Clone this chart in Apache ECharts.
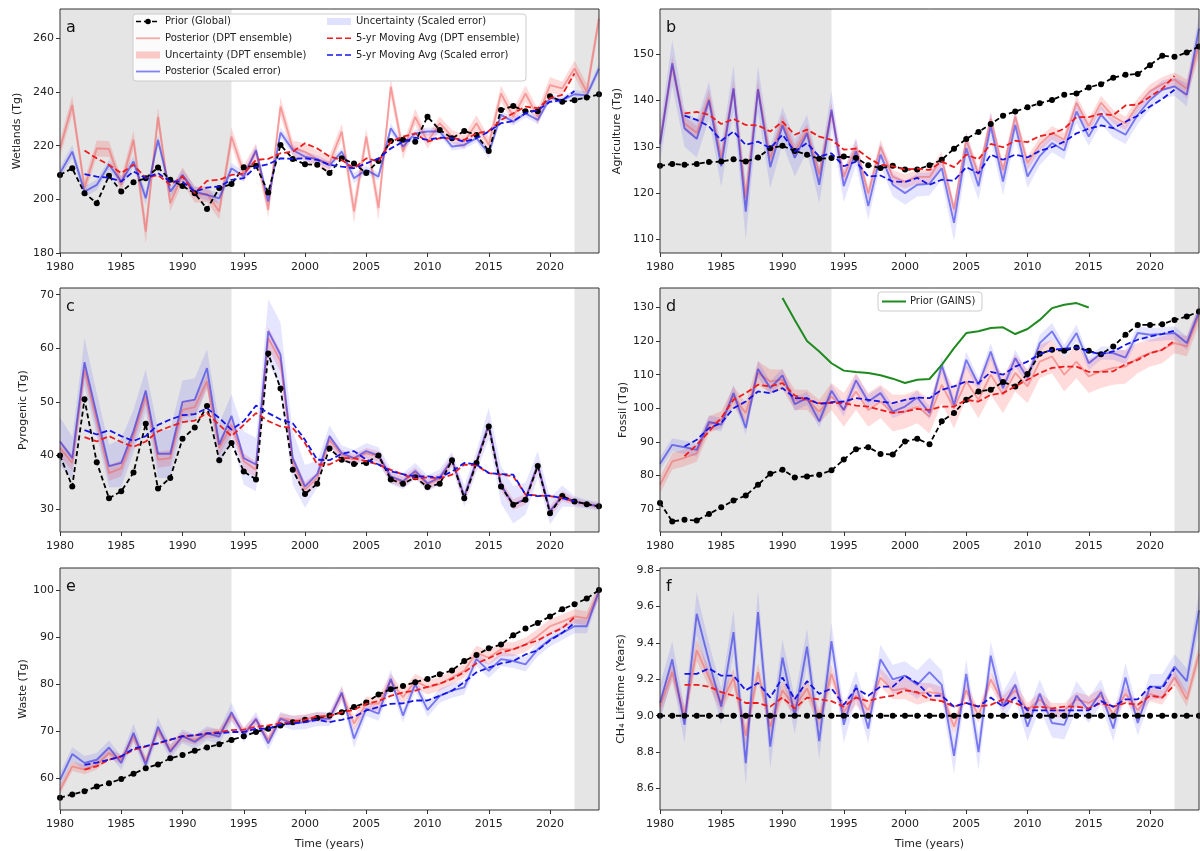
<!DOCTYPE html>
<html>
<head>
<meta charset="utf-8">
<script src="https://cdn.jsdelivr.net/npm/echarts@6/dist/echarts.min.js"></script>
<style>
  html, body { margin: 0; padding: 0; background: #fff; }
  #chart { width: 1200px; height: 851px; }
</style>
</head>
<body>
<div id="chart"></div>
<script>
// ---- time axes ----
const years = [1980,1981,1982,1983,1984,1985,1986,1987,1988,1989,1990,1991,1992,1993,1994,
  1995,1996,1997,1998,1999,2000,2001,2002,2003,2004,2005,2006,2007,2008,2009,
  2010,2011,2012,2013,2014,2015,2016,2017,2018,2019,2020,2021,2022,2023,2024];
const maYears = [1982,1983,1984,1985,1986,1987,1988,1989,1990,1991,1992,1993,1994,1995,1996,
  1997,1998,1999,2000,2001,2002,2003,2004,2005,2006,2007,2008,2009,2010,2011,
  2012,2013,2014,2015,2016,2017,2018,2019,2020,2021,2022];
const gainsYears = [1990,1991,1992,1993,1994,1995,1996,1997,1998,1999,2000,2001,2002,
  2003,2004,2005,2006,2007,2008,2009,2010,2011,2012,2013,2014,2015];
const xTicks = [1980,1985,1990,1995,2000,2005,2010,2015,2020];
const shadedPeriods = [[1980,1994],[2022,2024]];

// ---- a: Wetlands (Tg) ----
const yTicksA = [180,200,220,240,260];
const priorA = [209.1,211.6,202.3,198.6,208.8, 202.9,206.4,207.9,211.9,207.3, 205.0,202.3,196.4,204.2,205.7,
  212.0,212.5,202.6,220.3,215.1, 213.1,212.9,209.8,215.3,213.4, 209.8,214.3,221.8,222.2,221.5,
  230.8,225.9,222.8,225.5,224.0, 218.0,233.3,234.8,232.9,232.9, 238.5,236.4,237.0,238.0,239.2];
const dptA = [219.0,235.2,204.4,219.0,218.8, 205.4,222.2,188.0,230.8,198.6, 209.1,201.7,202.0,195.5,223.4,
  209.8,217.8,196.1,234.6,219.0, 217.8,215.0,213.5,225.3,195.5, 223.4,196.7,242.0,217.8,230.8,
  221.5,228.4,223.4,221.5,228.4, 220.3,239.5,230.8,239.5,230.8, 242.6,241.4,248.8,240.1,267.4];
const dptErrA = [3.0,3.5,3.0,3.0,3.0, 3.0,3.5,4.5,3.5,3.0, 3.0,3.0,3.0,3.0,3.5,
  3.0,3.0,3.0,3.5,3.0, 3.0,3.0,3.0,3.0,4.5, 3.0,4.5,3.5,3.0,3.0,
  2.5,2.5,2.5,2.5,3.0, 3.0,3.0,3.0,3.0,3.0, 3.0,2.5,3.0,3.0,3.0];
const scaledA = [209.8,217.8,202.9,205.4,212.9, 206.6,214.1,200.4,222.2,202.9, 209.1,202.9,201.7,200.4,211.6,
  208.5,218.4,199.2,224.9,218.4, 215.9,215.0,212.7,217.8,207.9, 211.0,208.5,226.5,219.7,224.6,
  225.3,225.3,219.7,220.3,222.8, 217.2,231.5,229.0,232.1,229.6, 237.9,237.0,239.2,238.8,248.8];
const scaledErrA = [2.0,2.5,2.0,2.0,2.0, 2.0,2.0,2.5,2.0,2.0, 2.0,2.0,2.0,2.0,2.0,
  2.0,2.0,2.5,2.0,2.0, 2.0,1.5,1.5,1.5,2.0, 1.5,1.5,2.0,1.5,1.5,
  1.5,1.5,1.5,1.5,1.5, 2.0,1.5,1.5,1.5,1.5, 1.5,1.5,1.5,1.5,2.0];
const maDptA = [218.2,215.3,212.9,209.8,212.9, 207.9,209.1,205.4,208.5,202.3, 206.9,207.3,209.1,209.6,214.7,
  215.1,217.2,217.8,220.9,219.0, 216.0,214.7,211.6,215.3,214.1, 221.5,223.4,224.6,221.5,222.8,
  222.8,222.2,224.6,225.5,229.6, 232.1,234.6,234.0,237.7,239.0, 247.0];
const maScaledA = [209.4,208.5,208.1,206.6,210.4, 207.9,209.8,206.6,206.6,202.9, 204.4,204.8,207.3,207.9,212.2,
  213.1,215.3,215.1,215.3,214.7, 212.9,212.2,211.6,213.4,215.3, 219.0,221.5,223.0,222.2,223.0,
  222.8,221.5,222.8,225.3,228.4, 229.2,232.1,233.3,236.4,237.0, 240.4];

// ---- b: Agriculture (Tg) ----
const yTicksB = [110,120,130,140,150];
const priorB = [125.9,126.3,126.1,126.3,126.7, 126.8,127.3,126.8,127.7,129.7, 130.2,129.1,128.3,127.4,127.6,
  127.9,127.6,126.0,125.4,125.9, 125.1,125.1,126.0,127.2,129.6, 131.7,133.2,134.9,136.7,137.6,
  138.5,139.4,140.1,141.2,141.5, 142.8,143.5,144.9,145.5,145.7, 147.6,149.6,149.4,150.3,151.6];
const dptB = [131.0,147.5,135.0,133.0,140.5, 127.5,142.5,119.0,142.5,127.5, 135.5,129.0,133.5,124.0,137.5,
  123.5,130.0,120.0,130.0,123.5, 122.5,123.5,123.5,127.5,116.5, 131.5,124.0,136.0,125.0,136.5,
  126.5,130.5,133.0,131.5,139.5, 134.5,139.5,136.5,135.0,139.0, 142.0,143.5,144.5,142.5,152.0];
const dptErrB = [2.0,2.0,1.5,1.5,2.0, 1.5,2.0,2.0,2.0,1.5, 1.5,1.5,1.5,1.5,2.0,
  1.5,1.5,1.5,1.5,1.5, 1.5,1.5,1.5,1.5,1.5, 1.5,1.5,1.5,1.5,1.5,
  1.5,1.5,1.5,1.5,1.5, 1.5,1.5,1.5,1.5,1.5, 1.5,1.5,1.5,2.0,2.5];
const scaledB = [130.5,148.0,134.0,131.7,140.0, 125.8,142.6,116.0,142.4,125.6, 134.6,127.6,132.9,121.8,138.0,
  121.5,129.0,117.2,128.3,121.8, 120.0,121.8,122.0,125.4,113.6, 129.7,121.5,134.4,122.5,134.7,
  123.6,128.0,130.8,129.2,137.6, 132.2,136.9,134.0,132.6,136.9, 140.1,142.3,143.0,141.2,155.5];
const scaledErrB = [4.0,5.0,4.0,4.0,4.0, 4.5,5.0,6.0,5.0,4.5, 4.0,4.0,4.0,4.0,4.0,
  3.5,3.0,3.0,2.5,2.5, 2.5,2.5,2.5,2.5,4.0, 3.5,3.0,3.0,3.0,3.0,
  2.5,2.0,2.0,2.0,2.5, 2.0,2.0,2.0,2.0,2.0, 2.0,2.0,2.0,2.5,3.0];
const maDptB = [137.2,137.5,136.9,134.9,136.0, 134.7,134.6,133.3,135.4,132.6, 133.7,132.2,131.5,129.4,129.6,
  127.6,126.1,125.8,125.1,125.3, 125.0,126.8,125.6,128.3,127.3, 130.6,129.9,131.3,131.0,132.3,
  132.8,133.9,136.4,136.4,137.1, 136.8,138.9,139.1,140.8,142.5, 145.3];
const maScaledB = [136.7,135.8,134.4,131.3,133.3, 130.4,131.1,129.7,132.6,129.0, 130.8,127.9,128.6,125.8,126.8,
  123.6,123.8,122.5,122.4,123.3, 121.8,122.9,122.7,125.6,124.3, 128.3,127.2,128.3,127.7,129.1,
  129.9,131.1,132.9,133.9,134.6, 134.0,135.4,136.7,138.7,140.3, 142.3];

// ---- c: Pyrogenic (Tg) ----
const yTicksC = [30,40,50,60,70];
const priorC = [40.0,34.2,50.5,38.7,32.0, 33.3,36.8,45.9,33.8,35.8, 43.1,45.2,49.2,39.1,42.3,
  37.0,35.5,59.0,52.5,37.3, 32.8,34.7,41.3,39.2,38.4, 38.6,40.0,35.5,34.7,35.9,
  34.1,34.7,39.1,32.0,38.6, 45.4,34.2,30.8,31.7,38.0, 29.2,32.4,31.4,30.9,30.5];
const dptC = [41.4,38.6,56.0,46.4,36.7, 37.6,43.6,51.0,39.2,39.5, 48.5,49.0,53.8,41.4,45.7,
  38.9,37.3,61.9,57.6,38.6, 33.6,35.8,42.9,40.0,39.2, 40.4,39.8,35.8,35.0,36.8,
  34.6,35.6,39.1,32.2,38.7, 45.6,34.4,30.8,31.8,38.1, 29.5,32.4,31.4,30.9,30.5];
const dptErrC = [1.5,1.5,1.5,1.5,1.5, 1.5,1.5,1.5,1.5,1.5, 1.5,1.5,1.5,1.5,1.5,
  1.5,1.5,2.0,2.0,1.5, 1.5,1.0,1.0,1.0,1.0, 1.0,1.0,1.0,1.0,1.0,
  1.0,1.0,1.0,1.0,1.0, 1.0,1.0,1.0,1.0,1.0, 1.0,1.0,0.6,0.5,0.5];
const scaledC = [42.6,39.5,57.4,47.6,38.0, 38.6,44.5,52.1,40.3,40.3, 50.0,50.4,56.3,42.0,47.4,
  39.5,38.3,63.2,58.8,39.5, 34.2,36.5,43.6,40.4,39.5, 40.8,40.0,36.1,35.2,37.1,
  34.8,35.9,39.2,32.4,38.9, 45.9,34.5,30.8,31.9,38.3, 29.6,32.4,31.4,30.9,30.5];
const scaledErrC = [4.5,4.0,4.5,4.0,4.0, 4.5,4.0,4.0,4.5,4.5, 4.0,4.0,3.5,4.0,4.0,
  5.0,5.0,6.0,6.0,5.0, 4.0,2.5,2.0,1.5,1.5, 1.5,1.5,1.5,1.5,1.5,
  1.5,1.5,1.5,2.0,2.0, 3.0,3.5,3.5,3.0,2.5, 2.5,2.0,1.0,0.8,0.8];
const maDptC = [43.4,42.6,43.6,42.5,41.6, 42.6,44.5,45.4,46.2,46.5, 47.9,45.7,43.6,45.7,47.9,
  46.4,45.4,45.1,42.3,38.3, 38.3,39.5,39.5,38.9,38.3, 37.3,36.4,35.6,35.9,35.7,
  36.4,38.3,38.1,36.7,36.4, 36.1,32.7,32.5,32.4,32.0, 31.4];
const maScaledC = [44.7,43.9,44.7,43.6,42.7, 43.6,45.7,46.7,47.5,47.7, 48.8,47.0,44.8,46.4,49.3,
  47.9,46.7,46.0,42.9,39.2, 39.1,40.3,40.8,39.2,38.3, 37.0,36.5,36.1,36.1,35.9,
  37.0,38.6,38.3,36.7,36.5, 36.4,32.7,32.4,32.5,32.0, 31.4];

// ---- d: Fossil (Tg) ----
const yTicksD = [70,80,90,100,110,120,130];
const priorD = [71.8,66.3,66.8,66.6,68.5, 70.5,72.5,74.0,77.2,80.5, 81.7,79.4,79.7,80.2,81.5,
  84.7,87.8,88.4,86.4,86.2, 90.1,90.9,89.3,96.1,98.6, 102.5,105.0,105.5,107.8,106.5,
  110.2,116.2,117.4,117.1,118.1, 117.1,116.1,118.4,121.9,124.8, 124.8,125.0,126.3,127.3,128.8];
const dptD = [77.2,84.2,85.2,86.6,95.1, 96.6,103.5,98.6,110.5,108.0, 108.5,102.5,102.5,99.0,103.5,
  99.5,105.0,99.5,102.0,98.6, 99.0,100.5,97.5,107.0,100.0, 108.0,102.5,110.0,104.0,110.5,
  106.5,113.9,115.4,110.0,113.9, 109.5,111.0,112.0,112.4,114.9, 116.4,117.4,119.4,118.4,127.8];
const dptErrD = [2.5,2.5,2.5,2.5,2.5, 2.5,3.0,3.0,3.5,3.5, 3.0,3.0,3.0,3.5,4.0,
  5.0,5.5,5.0,5.0,5.5, 5.0,5.0,5.0,5.5,6.0, 5.0,5.5,6.0,5.5,5.5,
  5.0,5.0,5.0,5.0,5.0, 5.0,5.0,5.0,5.0,4.5, 4.0,4.0,3.0,3.0,3.0];
const scaledD = [83.5,89.1,88.4,87.6,95.9, 95.1,104.5,94.1,111.7,106.0, 109.8,101.2,103.0,96.1,105.2,
  99.5,108.3,102.0,104.5,99.0, 100.5,103.2,98.6,112.9,101.0, 114.4,107.0,116.9,106.0,114.9,
  109.0,119.4,122.9,116.9,122.4, 113.4,116.4,116.4,115.1,122.4, 121.9,122.1,122.4,119.4,128.8];
const scaledErrD = [2.0,2.0,2.0,2.0,2.0, 2.0,2.5,2.0,2.5,2.0, 2.0,2.0,2.0,2.0,2.0,
  2.0,2.0,2.0,2.0,2.0, 2.0,2.0,2.0,2.5,2.0, 2.5,2.0,2.5,2.0,2.5,
  2.0,2.5,2.5,2.0,2.5, 2.0,2.0,2.0,2.0,2.0, 2.0,2.0,2.0,2.0,2.0];
const maDptD = [85.7,89.1,93.1,97.1,102.5, 104.5,107.0,106.5,107.5,103.8, 102.5,101.5,101.5,101.5,100.8,
  100.5,99.5,98.6,99.0,99.8, 99.5,100.5,100.5,102.5,102.0, 104.0,104.5,106.5,108.5,110.5,
  112.0,112.4,112.4,110.8,110.8, 111.0,113.1,114.4,116.4,117.4, 120.1];
const maScaledD = [88.6,90.6,94.1,95.6,100.0, 102.0,105.0,104.5,106.0,103.0, 103.0,101.2,101.8,102.0,103.0,
  102.5,102.0,101.5,102.5,103.2, 103.0,105.5,106.5,108.0,107.5, 110.8,110.0,112.4,113.9,116.1,
  117.4,117.7,118.1,116.9,116.1, 116.9,118.9,120.4,121.4,122.1, 123.1];
const gainsD = [132.8,126.3,120.0,116.9,113.4,111.2,110.8,110.5,109.8,108.8,
  107.5,108.5,108.7,112.9,117.9,122.4,122.9,123.9,124.1,122.1,
  123.6,126.3,129.8,130.8,131.3,130.0];

// ---- e: Waste (Tg) ----
const yTicksE = [60,70,80,90,100];
const priorE = [55.8,56.5,57.2,58.2,58.9, 59.8,60.9,62.1,62.9,64.2, 64.9,65.8,66.5,67.2,68.1,
  68.9,69.8,70.5,71.2,71.9, 72.4,72.8,73.3,74.0,75.1, 76.1,77.8,78.9,79.6,80.4,
  81.1,82.1,82.9,84.9,86.2, 87.6,88.4,90.4,91.8,93.0, 94.4,95.9,97.0,98.2,100.0];
const dptE = [57.5,62.5,61.8,62.8,65.3, 63.9,68.8,63.5,70.2,66.0, 68.8,68.1,69.5,69.5,73.3,
  69.8,72.3,68.1,72.8,72.3, 72.6,73.0,72.8,77.9,71.6, 75.8,75.8,80.7,77.2,80.7,
  79.3,80.0,81.4,82.8,86.7, 85.6,87.4,87.4,88.4,90.2, 92.3,93.3,94.4,94.0,99.6];
const dptErrE = [1.0,1.0,1.0,1.0,1.0, 1.0,1.0,1.0,1.0,1.0, 1.0,1.0,1.0,1.0,1.0,
  1.0,1.0,1.0,1.0,1.0, 1.0,1.0,1.0,1.5,1.5, 1.5,1.5,1.5,1.5,1.5,
  1.5,1.5,1.5,1.5,1.5, 1.5,1.5,1.5,1.5,1.5, 1.5,1.5,1.5,1.5,1.5];
const scaledE = [59.6,65.1,63.2,63.9,66.5, 63.2,69.6,62.8,70.9,65.6, 68.9,67.7,69.5,68.8,74.0,
  69.1,72.6,67.4,72.6,71.7, 71.9,72.6,72.6,78.2,68.4, 74.7,73.7,81.1,73.3,80.0,
  74.5,77.5,78.6,79.3,85.3, 82.8,85.3,84.9,84.2,87.4, 89.5,90.9,92.3,92.3,99.8];
const scaledErrE = [1.5,1.5,1.5,1.5,1.5, 1.5,2.0,1.5,2.0,1.5, 1.5,1.5,1.5,1.5,2.0,
  1.5,1.5,1.5,1.5,1.5, 1.5,1.5,1.5,1.5,2.0, 1.5,1.5,2.0,1.5,1.5,
  1.5,1.5,1.5,1.5,1.5, 1.5,1.5,1.5,1.5,1.5, 1.5,1.5,1.5,1.5,1.5];
const maDptE = [61.8,62.5,63.9,64.6,66.0, 66.7,67.4,68.1,68.9,69.1, 69.5,69.8,70.2,70.3,70.9,
  71.2,71.7,71.9,72.4,73.1, 73.2,74.0,74.5,75.8,76.4, 77.5,78.2,78.6,79.4,80.1,
  81.1,82.5,84.4,85.5,86.7, 87.4,88.4,89.3,90.7,91.9, 94.2];
const maScaledE = [62.8,63.3,63.9,64.6,66.3, 66.8,67.4,68.2,68.9,69.1, 69.5,69.5,69.8,69.8,70.5,
  70.5,71.4,71.6,71.9,72.4, 71.9,72.4,73.0,74.4,75.1, 75.8,75.9,76.5,76.5,77.5,
  78.6,80.4,82.5,83.5,84.4, 84.9,86.3,87.2,89.3,90.9, 93.0];

// ---- f: CH4 lifetime (years) ----
const yTicksF = [8.6,8.8,9.0,9.2,9.4,9.6,9.8];
const priorF = [9.0,9.0,9.0,9.0,9.0, 9.0,9.0,9.0,9.0,9.0, 9.0,9.0,9.0,9.0,9.0,
  9.0,9.0,9.0,9.0,9.0, 9.0,9.0,9.0,9.0,9.0, 9.0,9.0,9.0,9.0,9.0,
  9.0,9.0,9.0,9.0,9.0, 9.0,9.0,9.0,9.0,9.0, 9.0,9.0,9.0,9.0,9.0];
const dptF = [9.05,9.24,9.00,9.36,9.21, 9.07,9.21,8.89,9.24,8.94, 9.14,9.05,9.15,8.98,9.23,
  9.02,9.11,9.03,9.21,9.14, 9.15,9.12,9.13,9.12,8.94, 9.14,9.00,9.20,9.07,9.14,
  9.03,9.09,9.03,9.03,9.09, 9.07,9.11,9.01,9.12,9.03, 9.12,9.10,9.21,9.09,9.34];
const dptErrF = [0.05,0.05,0.05,0.06,0.05, 0.05,0.05,0.06,0.05,0.05, 0.05,0.05,0.05,0.05,0.05,
  0.05,0.05,0.05,0.05,0.05, 0.06,0.06,0.05,0.04,0.04, 0.04,0.04,0.04,0.04,0.04,
  0.04,0.04,0.04,0.04,0.04, 0.04,0.04,0.04,0.04,0.04, 0.04,0.04,0.04,0.04,0.05];
const scaledF = [9.07,9.31,8.95,9.56,9.30, 9.05,9.46,8.74,9.57,8.83, 9.32,9.00,9.38,8.86,9.41,
  8.95,9.17,8.93,9.31,9.20, 9.22,9.17,9.24,9.17,8.78, 9.23,8.80,9.33,9.05,9.17,
  8.94,9.12,8.96,8.95,9.11, 9.03,9.13,8.93,9.21,8.96, 9.16,9.16,9.27,9.19,9.58];
const scaledErrF = [0.10,0.10,0.10,0.12,0.10, 0.10,0.12,0.12,0.12,0.12, 0.10,0.10,0.10,0.10,0.10,
  0.10,0.08,0.08,0.08,0.08, 0.08,0.08,0.08,0.08,0.10, 0.08,0.10,0.08,0.08,0.08,
  0.08,0.08,0.08,0.08,0.08, 0.07,0.07,0.07,0.08,0.07, 0.07,0.07,0.07,0.07,0.10];
const maDptF = [9.17,9.17,9.16,9.13,9.11, 9.07,9.07,9.05,9.10,9.04, 9.10,9.09,9.08,9.05,9.10,
  9.08,9.10,9.11,9.14,9.13, 9.09,9.08,9.05,9.07,9.05, 9.06,9.09,9.07,9.04,9.05,
  9.04,9.05,9.05,9.04,9.07, 9.05,9.07,9.06,9.11,9.10, 9.17];
const maScaledF = [9.23,9.23,9.26,9.22,9.22, 9.14,9.18,9.10,9.21,9.09, 9.19,9.12,9.15,9.06,9.15,
  9.11,9.16,9.16,9.22,9.18, 9.11,9.11,9.05,9.07,9.05, 9.10,9.05,9.10,9.03,9.03,
  9.03,9.03,9.03,9.03,9.08, 9.05,9.09,9.09,9.16,9.15, 9.26];

// ---- styling ----
const FONT = 'DejaVu Sans';
const COL = {
  text: '#222',
  frame: '#333',
  shade: '#e5e5e5',
  prior: '#000',
  dptLine: 'rgba(240,100,100,0.55)',
  dptBand: 'rgba(255,0,0,0.14)',
  scaledLine: 'rgba(30,30,230,0.55)',
  scaledBand: 'rgba(0,0,255,0.10)',
  maDpt: '#ee1c1c',
  maScaled: '#1414e6',
  gains: '#1f8a1f'
};

// panel table (built from the arrays above)
const panels = [
  { letter: 'a', yName: 'Wetlands (Tg)', yMin: 180, yMax: 271, ticks: yTicksA, prior: priorA, dpt: dptA, dptErr: dptErrA, scaled: scaledA, scaledErr: scaledErrA, maDpt: maDptA, maScaled: maScaledA },
  { letter: 'b', yName: 'Agriculture (Tg)', yMin: 107.1, yMax: 159.7, ticks: yTicksB, prior: priorB, dpt: dptB, dptErr: dptErrB, scaled: scaledB, scaledErr: scaledErrB, maDpt: maDptB, maScaled: maScaledB },
  { letter: 'c', yName: 'Pyrogenic (Tg)', yMin: 25.7, yMax: 71.25, ticks: yTicksC, prior: priorC, dpt: dptC, dptErr: dptErrC, scaled: scaledC, scaledErr: scaledErrC, maDpt: maDptC, maScaled: maScaledC },
  { letter: 'd', yName: 'Fossil (Tg)', yMin: 63.15, yMax: 135.8, ticks: yTicksD, prior: priorD, dpt: dptD, dptErr: dptErrD, scaled: scaledD, scaledErr: scaledErrD, maDpt: maDptD, maScaled: maScaledD, gains: gainsD },
  { letter: 'e', yName: 'Waste (Tg)', yMin: 53.2, yMax: 104.7, ticks: yTicksE, prior: priorE, dpt: dptE, dptErr: dptErrE, scaled: scaledE, scaledErr: scaledErrE, maDpt: maDptE, maScaled: maScaledE, xName: 'Time (years)' },
  { letter: 'f', yName: 'CH\u2084 Lifetime (Years)', yMin: 8.482, yMax: 9.812, ticks: yTicksF, prior: priorF, dpt: dptF, dptErr: dptErrF, scaled: scaledF, scaledErr: scaledErrF, maDpt: maDptF, maScaled: maScaledF, xName: 'Time (years)', decimals: 1 }
];

// layout of the 3x2 panel grid
const colLeft = [60, 660];
const rowTop = [9, 288, 568];
const plotW = 539, plotH = 244;
const yNameGap = [37, 37, 31, 31, 31, 33];

function pairs(xs, ys) { return xs.map((x, i) => [x, ys[i]]); }

// filled band between mid-err and mid+err, drawn as one polygon through the axis scales
function bandSeries(ax, xs, mid, err, color) {
  const lo = mid.map((m, k) => m - err[k]);
  const hi = mid.map((m, k) => m + err[k]);
  return Object.assign({
    type: 'custom', silent: true, z: 2, clip: true,
    data: xs.map((x, k) => [x, lo[k], hi[k]]),
    encode: { x: 0, y: [1, 2] },
    renderItem: (params, api) => {
      if (params.dataIndex !== 0) return null;
      const upper = xs.map((x, k) => api.coord([x, hi[k]]));
      const lower = xs.map((x, k) => api.coord([x, lo[k]])).reverse();
      return { type: 'polygon', shape: { points: upper.concat(lower) }, style: { fill: color } };
    }
  }, ax);
}

const grids = [], xAxes = [], yAxes = [], series = [], graphics = [];

panels.forEach((p, i) => {
  const left = colLeft[i % 2], top = rowTop[Math.floor(i / 2)];
  grids.push({ left, top, width: plotW, height: plotH, show: true, backgroundColor: 'transparent', borderColor: COL.frame, borderWidth: 1, z: 10 });

  xAxes.push({
    type: 'value', gridIndex: i, min: 1980, max: 2024,
    name: p.xName || '', nameLocation: 'middle', nameGap: 29,
    nameTextStyle: { fontFamily: FONT, fontSize: 11, color: COL.text },
    axisLine: { show: false },
    axisTick: { show: true, length: 4, customValues: xTicks, lineStyle: { color: COL.frame } },
    axisLabel: { customValues: xTicks, fontFamily: FONT, fontSize: 11, color: COL.text, margin: 9, formatter: v => String(v) },
    splitLine: { show: false }
  });

  yAxes.push({
    type: 'value', gridIndex: i, min: p.yMin, max: p.yMax,
    name: p.yName, nameLocation: 'middle', nameRotate: 90, nameGap: yNameGap[i],
    nameTextStyle: { fontFamily: FONT, fontSize: 11, color: COL.text },
    axisLine: { show: false },
    axisTick: { show: true, length: 4, customValues: p.ticks, lineStyle: { color: COL.frame } },
    axisLabel: {
      customValues: p.ticks, fontFamily: FONT, fontSize: 11, color: COL.text, margin: 6,
      formatter: v => p.decimals ? v.toFixed(p.decimals) : String(Math.round(v))
    },
    splitLine: { show: false }
  });

  const ax = { xAxisIndex: i, yAxisIndex: i };

  // spin-up / spin-down periods
  series.push(Object.assign({
    type: 'line', data: pairs(years, p.prior), symbol: 'none', silent: true,
    lineStyle: { opacity: 0 }, z: 1,
    markArea: {
      silent: true, itemStyle: { color: COL.shade },
      data: shadedPeriods.map(s => [{ xAxis: s[0] }, { xAxis: s[1] }])
    }
  }, ax));

  // uncertainty bands
  series.push(bandSeries(ax, years, p.dpt, p.dptErr, COL.dptBand));
  series.push(bandSeries(ax, years, p.scaled, p.scaledErr, COL.scaledBand));

  // posterior estimates
  series.push(Object.assign({
    type: 'line', name: 'Posterior (DPT ensemble)', data: pairs(years, p.dpt), symbol: 'none',
    lineStyle: { color: COL.dptLine, width: 1.8 }, z: 3
  }, ax));
  series.push(Object.assign({
    type: 'line', name: 'Posterior (Scaled error)', data: pairs(years, p.scaled), symbol: 'none',
    lineStyle: { color: COL.scaledLine, width: 1.9 }, z: 3
  }, ax));

  // prior
  series.push(Object.assign({
    type: 'line', name: 'Prior (Global)', data: pairs(years, p.prior),
    symbol: 'circle', symbolSize: 6, itemStyle: { color: COL.prior },
    lineStyle: { color: COL.prior, width: 1.8, type: [5, 3] }, z: 4
  }, ax));

  // 5-year moving averages
  series.push(Object.assign({
    type: 'line', name: '5-yr Moving Avg (DPT ensemble)', data: pairs(maYears, p.maDpt), symbol: 'none',
    lineStyle: { color: COL.maDpt, width: 1.8, type: [6, 3] }, z: 5
  }, ax));
  series.push(Object.assign({
    type: 'line', name: '5-yr Moving Avg (Scaled error)', data: pairs(maYears, p.maScaled), symbol: 'none',
    lineStyle: { color: COL.maScaled, width: 1.8, type: [6, 3] }, z: 5
  }, ax));

  if (p.gains) {
    series.push(Object.assign({
      type: 'line', name: 'Prior (GAINS)', data: pairs(gainsYears, p.gains), symbol: 'none',
      lineStyle: { color: COL.gains, width: 2 }, z: 5
    }, ax));
  }

  // panel letter
  graphics.push({
    type: 'text', z: 30, x: left + 6, y: top + 19,
    style: { text: p.letter, font: '16px "' + FONT + '"', fill: '#111', verticalAlign: 'middle' }
  });
});

// ---- legend of panel a ----
const legendFont = '10px "' + FONT + '"';
function legendText(x, y, t) {
  return { type: 'text', z: 31, x, y, style: { text: t, font: legendFont, fill: COL.text, verticalAlign: 'middle' } };
}
function legendLine(x, y, color, dash, w) {
  return { type: 'line', z: 31, shape: { x1: x, y1: y, x2: x + 24, y2: y }, style: { stroke: color, lineWidth: w || 1.8, lineDash: dash || null } };
}
function legendPatch(x, y, color) {
  return { type: 'rect', z: 31, shape: { x, y: y - 3.5, width: 24, height: 7 }, style: { fill: color } };
}
const lgRows = [21.5, 38.3, 55, 71.5];
const c1 = 136, c2 = 327;
graphics.push({ type: 'rect', z: 30, shape: { x: 133, y: 14, width: 393, height: 67, r: 3 }, style: { fill: 'rgba(255,255,255,0.85)', stroke: '#cccccc', lineWidth: 1 } });
graphics.push(legendLine(c1, lgRows[0], COL.prior, [5, 3], 1.6));
graphics.push({ type: 'circle', z: 32, shape: { cx: c1 + 12, cy: lgRows[0], r: 2.8 }, style: { fill: COL.prior } });
graphics.push(legendText(c1 + 29, lgRows[0], 'Prior (Global)'));
graphics.push(legendLine(c1, lgRows[1], COL.dptLine));
graphics.push(legendText(c1 + 29, lgRows[1], 'Posterior (DPT ensemble)'));
graphics.push(legendPatch(c1, lgRows[2], 'rgba(255,0,0,0.2)'));
graphics.push(legendText(c1 + 29, lgRows[2], 'Uncertainty (DPT ensemble)'));
graphics.push(legendLine(c1, lgRows[3], COL.scaledLine));
graphics.push(legendText(c1 + 29, lgRows[3], 'Posterior (Scaled error)'));
graphics.push(legendPatch(c2, lgRows[0], 'rgba(0,0,255,0.12)'));
graphics.push(legendText(c2 + 29, lgRows[0], 'Uncertainty (Scaled error)'));
graphics.push(legendLine(c2, lgRows[1], COL.maDpt, [6, 3], 1.6));
graphics.push(legendText(c2 + 29, lgRows[1], '5-yr Moving Avg (DPT ensemble)'));
graphics.push(legendLine(c2, lgRows[2], COL.maScaled, [6, 3], 1.6));
graphics.push(legendText(c2 + 29, lgRows[2], '5-yr Moving Avg (Scaled error)'));

// ---- legend of panel d ----
graphics.push({ type: 'rect', z: 30, shape: { x: 878, y: 292, width: 104, height: 19, r: 3 }, style: { fill: 'rgba(255,255,255,0.85)', stroke: '#cccccc', lineWidth: 1 } });
graphics.push(legendLine(882, 301.5, COL.gains, null, 2));
graphics.push(legendText(910, 301.5, 'Prior (GAINS)'));

const chart = echarts.init(document.getElementById('chart'), null, { renderer: 'canvas' });
chart.setOption({
  animation: false,
  backgroundColor: '#fff',
  textStyle: { fontFamily: FONT },
  grid: grids,
  xAxis: xAxes,
  yAxis: yAxes,
  series,
  graphic: graphics
});
</script>
</body>
</html>
